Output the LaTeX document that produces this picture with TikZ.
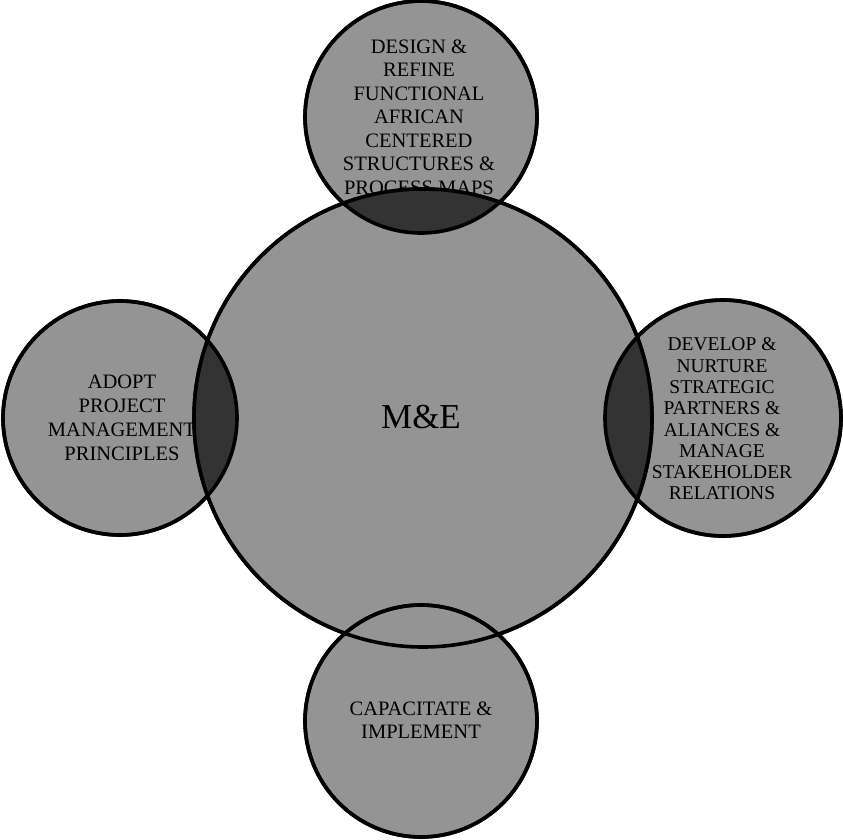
\documentclass[tikz,border=0pt]{standalone}
\usepackage{fontspec}
\setmainfont{Liberation Serif}
\begin{document}
\begin{tikzpicture}[x=1pt,y=-1pt,
  ring/.style={circle,inner sep=0pt,draw=black,line width=3.6pt,fill=lightg},
  rim/.style={circle,inner sep=0pt,draw=black,line width=3.6pt},
  lbl/.style={align=center,font=\fontsize{20.5}{23.5}\selectfont,inner sep=0pt,text=black}]
\definecolor{lightg}{gray}{0.58}
\definecolor{darkg}{gray}{0.2}
\useasboundingbox (0,0) rectangle (843,839);
% outer circles
\node[ring,minimum size=232pt] (top) at (421,117) {};
\node[lbl] (toptext) at (419,117) {DESIGN \&\\REFINE\\FUNCTIONAL\\AFRICAN\\CENTERED\\STRUCTURES \&\\PROCESS MAPS};
\node[ring,minimum size=234pt] (left) at (120,418) {};
\node[lbl,font=\fontsize{20.5}{24}\selectfont] (lefttext) at (122,418) {ADOPT\\PROJECT\\MANAGEMENT\\PRINCIPLES};
\node[ring,minimum size=236pt] (right) at (723,418) {};
\node[lbl,font=\fontsize{19.5}{21.3}\selectfont] (righttext) at (722,419) {DEVELOP \&\\NURTURE\\STRATEGIC\\PARTNERS \&\\ALIANCES \&\\MANAGE\\STAKEHOLDER\\RELATIONS};
% central circle
\node[ring,minimum size=458pt] (me) at (423,418) {};
% dark lenses
\begin{scope}
  \clip (421,117) circle (116pt);
  \fill[darkg] (423,418) circle (229pt);
\end{scope}
\begin{scope}
  \clip (120,418) circle (117pt);
  \fill[darkg] (423,418) circle (229pt);
\end{scope}
\begin{scope}
  \clip (723,418) circle (118pt);
  \fill[darkg] (423,418) circle (229pt);
\end{scope}
\node[rim,minimum size=232pt] at (top) {};
\node[rim,minimum size=234pt] at (left) {};
\node[rim,minimum size=236pt] at (right) {};
% bottom circle
\node[ring,minimum size=232pt] (bottom) at (421,721) {};
\node[rim,minimum size=458pt] at (me) {};
\node[rim,minimum size=232pt] at (bottom) {};
\node[lbl] (bottomtext) at (421,720) {CAPACITATE \&\\IMPLEMENT};
\node[lbl,font=\fontsize{35}{40}\selectfont] (metext) at (421,417) {M\&E};
\end{tikzpicture}
\end{document}
